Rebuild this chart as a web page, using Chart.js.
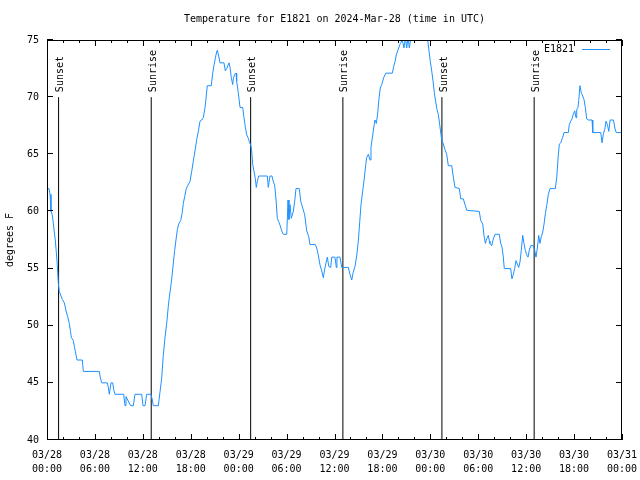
<!DOCTYPE html>
<html>
<head>
<meta charset="utf-8">
<script src="https://cdn.jsdelivr.net/npm/chart.js@4.4.1/dist/chart.umd.min.js"></script>
<style>
  html, body { margin: 0; padding: 0; background: #fff; }
  canvas { display: block; }
</style>
</head>
<body>
<canvas id="c" width="640" height="480"></canvas>
<script>
// ---- data (hours since 2024-03-28 00:00 UTC, temperature in °F) ----
const hours = [0,0.25,0.38,0.5,0.66,0.79,0.91,1.04,1.16,1.29,1.42,1.54,1.92,2.17,2.42,2.59,2.79,2.92,3.04,3.29,3.42,3.59,3.76,4.42,4.55,6.55,6.67,6.85,7.55,7.68,7.8,8.01,8.23,8.35,8.51,9.6,9.77,9.89,10.11,10.48,10.81,11.02,11.86,12.02,12.27,12.48,13.02,13.19,13.31,13.94,14.15,14.36,14.56,14.78,14.99,15.19,15.32,15.49,15.65,15.82,15.99,16.15,16.32,16.49,16.74,16.91,17.07,17.24,17.41,17.57,17.9,18.12,18.32,18.53,18.75,18.95,19.16,19.37,19.57,19.79,19.91,20.07,20.57,20.75,20.91,21.08,21.25,21.33,21.5,21.66,22.16,22.33,22.5,22.67,22.79,22.92,23.08,23.25,23.33,23.5,23.67,23.75,23.95,24.17,24.5,24.67,24.83,25.01,25.21,25.33,25.51,25.63,25.76,25.92,26.08,26.21,26.33,26.51,27.59,27.71,27.92,28.17,28.34,28.51,28.68,28.84,29.01,29.18,29.39,29.59,30.02,30.18,30.3,30.43,30.59,30.84,31.02,31.18,31.59,31.77,32.02,32.27,32.52,32.77,32.93,33.6,33.77,33.97,34.19,34.4,34.6,34.73,34.94,35.1,35.28,35.53,35.65,36.06,36.23,36.31,36.69,36.9,37.73,37.94,38.16,38.32,38.57,38.78,38.98,39.16,39.32,39.53,39.73,39.91,40.03,40.23,40.45,40.57,40.73,40.91,41.07,41.24,41.41,41.57,41.74,41.91,42.16,42.41,43.24,43.42,43.58,43.74,43.99,44.24,44.49,44.7,44.89,45.04,45.21,45.37,45.58,45.83,46.46,47.21,47.67,47.84,48,48.17,48.34,48.5,48.67,48.84,49,49.17,49.34,49.42,49.62,49.84,50.05,50.25,50.68,50.88,51.09,51.63,51.81,52.13,52.38,52.56,54.13,54.31,54.56,54.72,54.89,55.06,55.26,55.39,55.47,55.68,55.89,56.1,56.63,56.81,56.97,57.14,57.26,58.06,58.22,58.39,58.56,58.73,58.89,59.07,59.23,59.39,59.57,59.73,59.89,60.07,60.23,60.39,60.57,60.89,61.07,61.23,61.4,61.57,61.73,61.9,62.08,62.24,62.4,62.57,62.78,62.99,63.65,63.83,63.99,64.15,64.33,64.58,64.74,65.28,65.4,65.58,65.74,65.9,66.08,66.24,66.33,66.49,66.58,66.74,66.9,67.08,67.24,67.41,67.58,67.75,68.25,68.34,69.34,69.5,69.67,69.85,70,70.17,70.35,70.51,70.93,71.1,71.28,72];
const temps = [62,62,61.5,60,59.7,59,58.2,57.5,56.5,55.3,53.7,53,52.3,52,51.2,50.8,50.2,49.6,49,48.7,48.2,47.6,47,47,46,46,45.5,45,45,44.6,44,45,45,44.4,44,44,43,43.8,43.5,43,43,44,44,43,43,44,44,43.5,43,43,44.2,45.4,47.4,49,50.2,51.7,52.5,53.4,54.3,55.5,56.6,57.5,58.4,58.9,59.2,59.8,60.7,61.3,61.9,62.2,62.6,63.5,64.4,65.3,66.3,67,67.9,68,68.2,69.1,69.9,71,71,72.1,72.8,73.4,74,74.1,73.6,73,73,72.3,72.5,72.8,73,72.6,71.7,71.1,71.6,72,72.1,71.4,70.4,69.1,69.1,68.2,67.4,66.7,66.4,66.1,65.8,65.3,64.1,63.5,62.9,62.1,62.6,63.1,63.1,62.1,63.1,63.1,62.6,62.3,61,59.4,59.1,58.8,58.3,58,58,61,59.3,60.6,59.4,60,60.9,62,62,60.9,60.3,59.7,58.3,57.8,57.1,57.1,56.8,56.2,55.3,54.8,54.2,54.8,55.5,56,55.2,55.1,56,56,55.1,56,56,55.1,55.1,54.5,54,54.6,55.2,56.1,57.4,59.1,60.6,61.8,62.9,64.1,64.7,65,64.5,65.6,66.4,67.3,68,67.7,68.6,69.9,70.8,71.1,71.7,72.1,72.1,72.7,73.1,73.7,74.2,74.7,75,74.3,75.2,74.3,75.3,74.3,75.3,75.8,76,75.8,75,74,73.1,72.3,71.4,70.4,69.6,68.9,68.5,67.6,66.7,66.3,65.9,65.4,65,64,64,63,62.1,62,61.1,61.1,60.5,60.1,60,59.2,58.9,57.9,57.2,57.6,57.9,57.4,57.2,57,57.6,58,58,57.2,56.9,56,55,55,54.1,54.5,55,55.7,55.4,55.1,55.6,56.6,57.9,57.2,56.6,56.2,56,56.6,57,57,56.6,56,56.8,57.9,57.2,57.8,58.2,58.9,59.8,60.5,61.5,62,62,63,64.6,65.9,66,66.5,66.9,66.9,67.6,67.9,68.1,68.5,68.8,68.2,68.9,69.1,69.7,71,70.4,70.1,69.8,69.1,68.1,68,68,66.9,66.9,66,66.8,67.2,67.9,67.6,67,68,68,67.3,66.9,66.9];

const eventHours  = [1.45, 13.05, 25.5, 37.05, 49.45, 61.0];
const eventLabels = ['Sunset', 'Sunrise', 'Sunset', 'Sunrise', 'Sunset', 'Sunrise'];
const eventLow = 40, eventHigh = 70;

const tickDates = ['03/28','03/28','03/28','03/28','03/29','03/29','03/29','03/29','03/30','03/30','03/30','03/30','03/31'];
const tickTimes = ['00:00','06:00','12:00','18:00','00:00','06:00','12:00','18:00','00:00','06:00','12:00','18:00','00:00'];
const yTicks = [40, 45, 50, 55, 60, 65, 70, 75];

const seriesName = 'E1821';
const titleText = 'Temperature for E1821 on 2024-Mar-28 (time in UTC)';
const yTitle = 'degrees F';

// ---- chart ----
const FONT = '"DejaVu Sans Mono", "Liberation Mono", monospace';
const LINE_COLOR = '#1e90ff';

const datasets = [{
  label: seriesName,
  data: hours.map((h, i) => ({ x: h, y: temps[i] })),
  showLine: true,
  borderColor: LINE_COLOR,
  backgroundColor: LINE_COLOR,
  borderWidth: 1,
  pointRadius: 0,
  tension: 0,
  clip: 0
}];
eventHours.forEach((h, i) => {
  datasets.push({
    label: eventLabels[i],
    data: [{ x: h, y: eventLow }, { x: h, y: eventHigh }],
    showLine: true,
    borderColor: '#000',
    borderWidth: 1,
    pointRadius: 0
  });
});

const framePlugin = {
  id: 'frame',
  afterDatasetsDraw(chart) {
    const { ctx, chartArea: a, scales: { x, y } } = chart;
    ctx.save();
    ctx.strokeStyle = '#000';
    ctx.lineWidth = 1;
    ctx.strokeRect(Math.round(a.left) + 0.5, Math.round(a.top) + 0.5,
                   Math.round(a.right - a.left) - 1, Math.round(a.bottom - a.top) - 1);
    ctx.beginPath();
    yTicks.forEach(v => {
      const py = Math.round(y.getPixelForValue(v)) - 0.5;
      ctx.moveTo(a.left, py); ctx.lineTo(a.left + 6, py);
      ctx.moveTo(a.right, py); ctx.lineTo(a.right - 6, py);
    });
    for (let h = 0; h <= 72; h += 2) {
      const px = Math.round(x.getPixelForValue(h)) + 0.5;
      const len = (h % 6 === 0) ? 6 : 3;
      ctx.moveTo(px, a.bottom); ctx.lineTo(px, a.bottom - len);
      ctx.moveTo(px, a.top); ctx.lineTo(px, a.top + len);
    }
    ctx.stroke();

    ctx.fillStyle = '#000';
    ctx.font = '10px ' + FONT;
    ctx.textAlign = 'left';
    ctx.textBaseline = 'middle';
    eventHours.forEach((h, i) => {
      const px = x.getPixelForValue(h);
      const py = y.getPixelForValue(eventHigh);
      ctx.save();
      ctx.translate(px + 2, py - 5);
      ctx.rotate(-Math.PI / 2);
      ctx.fillText(eventLabels[i], 0, 0);
      ctx.restore();
    });

    ctx.textAlign = 'right';
    ctx.fillText(seriesName, a.right - 48, a.top + 9);
    ctx.strokeStyle = LINE_COLOR;
    ctx.beginPath();
    ctx.moveTo(a.right - 40, a.top + 9.5);
    ctx.lineTo(a.right - 12, a.top + 9.5);
    ctx.stroke();
    ctx.restore();
  }
};

new Chart(document.getElementById('c'), {
  type: 'scatter',
  data: { datasets },
  options: {
    responsive: false,
    animation: false,
    events: [],
    layout: { padding: { left: 0, right: 18, top: 0, bottom: 0 } },
    plugins: {
      legend: { display: false },
      tooltip: { enabled: false },
      title: {
        display: true,
        fullSize: false,
        text: titleText,
        color: '#000',
        font: { family: FONT, size: 10, weight: 'normal', lineHeight: 1.2 },
        padding: { top: 13, bottom: 15 }
      }
    },
    scales: {
      x: {
        type: 'linear',
        min: 0, max: 72,
        afterBuildTicks(s) { s.ticks = tickDates.map((_, i) => ({ value: i * 6 })); },
        afterFit(s) { s.height = 40; s.paddingLeft = 0; s.paddingRight = 0; },
        grid: { display: false, drawTicks: false },
        border: { display: false },
        ticks: {
          color: '#000',
          font: { family: FONT, size: 10, lineHeight: 1.4 },
          padding: 8,
          maxRotation: 0,
          autoSkip: false,
          callback(v) { const i = Math.round(v / 6); return [tickDates[i], tickTimes[i]]; }
        }
      },
      y: {
        min: 40, max: 75,
        afterBuildTicks(s) { s.ticks = yTicks.map(v => ({ value: v })); },
        afterFit(s) { s.width = 47; s.paddingTop = 0; s.paddingBottom = 0; },
        grid: { display: false, drawTicks: false },
        border: { display: false },
        ticks: {
          color: '#000',
          font: { family: FONT, size: 10 },
          padding: 8,
          callback(v) { return String(v); }
        },
        title: {
          display: true,
          text: yTitle,
          color: '#000',
          font: { family: FONT, size: 10 },
          padding: { top: 4, bottom: 0 }
        }
      }
    }
  },
  plugins: [framePlugin]
});
</script>
</body>
</html>
